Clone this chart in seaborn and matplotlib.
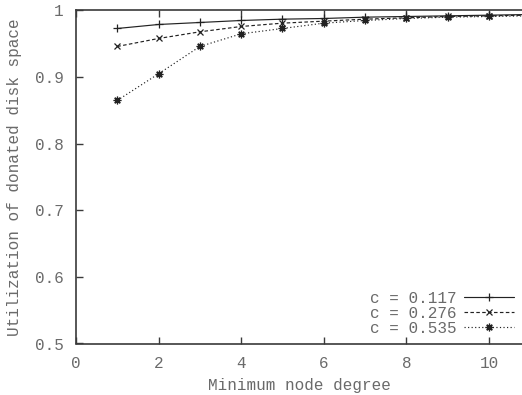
import matplotlib
matplotlib.use("Agg")
import matplotlib.pyplot as plt
import seaborn as sns
import pandas as pd

degrees = [1, 2, 3, 4, 5, 6, 7, 8, 9, 10, 11]
util_c0117 = [0.973, 0.979, 0.982, 0.985, 0.987, 0.988, 0.990, 0.991, 0.992, 0.993, 0.994]
util_c0276 = [0.946, 0.958, 0.968, 0.976, 0.981, 0.984, 0.987, 0.989, 0.991, 0.992, 0.993]
util_c0535 = [0.865, 0.905, 0.946, 0.965, 0.973, 0.981, 0.985, 0.988, 0.990, 0.991, 0.992]
labels = ["c = 0.117", "c = 0.276", "c = 0.535"]
x_ticks = [0, 2, 4, 6, 8, 10]
y_ticks = [0.5, 0.6, 0.7, 0.8, 0.9, 1.0]
y_ticklabels = ["0.5", "0.6", "0.7", "0.8", "0.9", "1"]

sns.set_style("ticks")
plt.rcParams["font.family"] = ["Liberation Mono", "DejaVu Sans Mono"]

TXT = "#6a6a6a"
LN = "#222222"
AX = "#3a3a3a"

fig = plt.figure(figsize=(5.22, 3.95), dpi=100)
ax = fig.add_axes([76 / 522, 51.5 / 395, 446 / 522, 333 / 395])

series = [util_c0117, util_c0276, util_c0535]
styles = [
    dict(linestyle="-", marker="+", markersize=6, markeredgewidth=0.9),
    dict(linestyle=(0, (3, 2)), marker="x", markersize=4.5, markeredgewidth=0.9),
    dict(linestyle=(0, (1, 2)), marker=(8, 2, 0), markersize=5.5, markeredgewidth=0.9),
]
for vals, lab, st in zip(series, labels, styles):
    df = pd.DataFrame({"deg": degrees, "util": vals})
    sns.lineplot(data=df, x="deg", y="util", ax=ax, color=LN, linewidth=0.85,
                 label=lab, markeredgecolor=LN, **st)

ax.set_xlim(0, 10.8)
ax.set_ylim(0.5, 1.0)
ax.set_xticks(x_ticks)
ax.set_xticklabels([str(t) for t in x_ticks])
ax.set_yticks(y_ticks)
ax.set_yticklabels(y_ticklabels)
ax.tick_params(axis="both", direction="in", length=5, width=1, colors=AX,
               labelcolor=TXT, labelsize=11.5, top=True, right=False)
ax.tick_params(axis="x", pad=9)
ax.tick_params(axis="y", pad=9)
for s in ["left", "bottom", "top"]:
    ax.spines[s].set_visible(True)
    ax.spines[s].set_color(AX)
    ax.spines[s].set_linewidth(1.2)
ax.spines["right"].set_visible(False)

ax.set_xlabel("Minimum node degree", color=TXT, fontsize=11.5, labelpad=5)
ax.set_ylabel("Utilization of donated disk space", color=TXT, fontsize=11.5, labelpad=9)

leg = ax.legend(loc="lower right", bbox_to_anchor=(514 / 522, 1 - 336 / 395),
                bbox_transform=fig.transFigure, frameon=False, markerfirst=False,
                handlelength=3.1, handletextpad=0.5, labelspacing=0.0,
                borderpad=0, borderaxespad=0, fontsize=11.5)
for t in leg.get_texts():
    t.set_color(TXT)

fig.savefig("out.png", dpi=100)
